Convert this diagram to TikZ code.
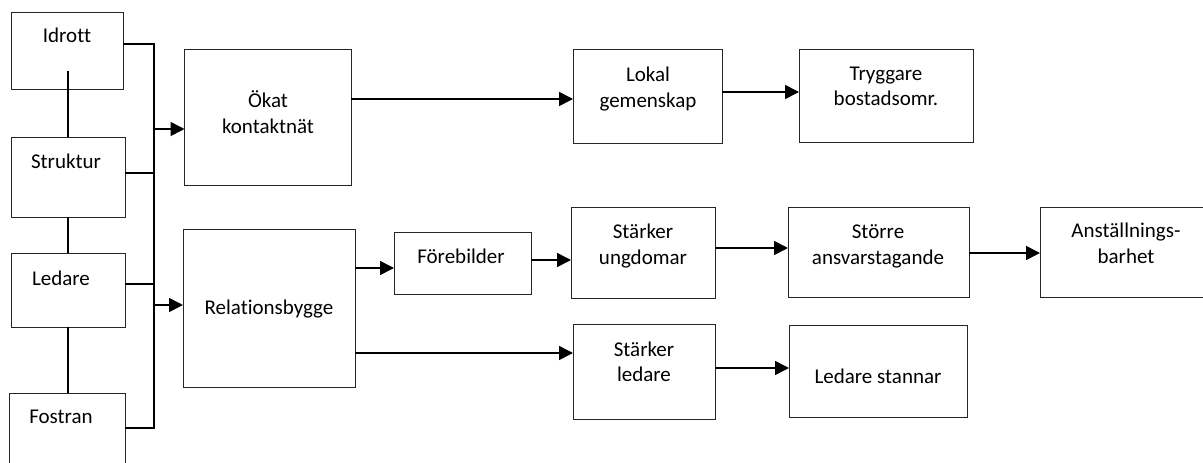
\documentclass[tikz,border=0pt]{standalone}
\usepackage{fontspec}
\setmainfont{Carlito}[Ligatures=NoCommon]
\usetikzlibrary{arrows.meta}
\tikzset{
  box/.style={draw=black!85, line width=1pt, inner sep=0pt, outer sep=0pt, anchor=north west},
  txt/.style={inner sep=0pt, anchor=base, font=\fontsize{21}{26}\selectfont},
  conn/.style={line width=1.6pt, black},
  arr/.style={conn, -{Triangle[length=14pt,width=14pt]}},
}
\newcommand\mkbox[5]{\node[box, minimum width={(#4-#2)*1pt}, minimum height={(#5-#3)*1pt}] (#1) at (#2,#3) {};}
\begin{document}
\begin{tikzpicture}[x=1pt,y=-1pt]
\useasboundingbox (0,0) rectangle (1203,463);
\clip (0,0) rectangle (1203,463);
% boxes
\mkbox{idrott}{11}{12}{123}{89}
\mkbox{struktur}{11}{137}{125}{217}
\mkbox{ledare}{11}{253}{125}{327}
\mkbox{fostran}{9}{393}{125}{475}
\mkbox{okat}{184.5}{49}{351}{185}
\mkbox{rel}{183}{229}{355}{387}
\mkbox{lokal}{573}{49}{722}{143}
\mkbox{trygg}{799}{49}{973}{142}
\mkbox{foreb}{394}{232}{531}{294}
\mkbox{sung}{571}{207}{715}{298}
\mkbox{storre}{788}{207}{969}{297}
\mkbox{anst}{1040}{207}{1215}{297}
\mkbox{sled}{573}{324}{715}{419}
\mkbox{lstan}{789}{325}{967}{417}
% texts
\node[txt] (tIdrott) at (67,42) {Idrott};
\node[txt] (tStruktur) at (66,168) {Struktur};
\node[txt] (tLedare) at (61,285) {Ledare};
\node[txt] (tFostran) at (61,423) {Fostran};
\node[txt] (tOkat1) at (268,107) {Ökat};
\node[txt] (tOkat2) at (268,133) {kontaktnät};
\node[txt] (tLokal1) at (648,81) {Lokal};
\node[txt] (tLokal2) at (648,107) {gemenskap};
\node[txt] (tTrygg1) at (886,80) {Tryggare};
\node[txt] (tTrygg2) at (886,105) {bostadsomr.};
\node[txt] (tRel) at (269,314) {Relationsbygge};
\node[txt] (tForeb) at (461,263) {Förebilder};
\node[txt] (tSung1) at (643,238) {Stärker};
\node[txt] (tSung2) at (643,264) {ungdomar};
\node[txt] (tStorre1) at (878,238) {Större};
\node[txt] (tStorre2) at (878,264) {ansvarstagande};
\node[txt] (tAnst1) at (1126,237) {Anställnings-};
\node[txt] (tAnst2) at (1126,263) {barhet};
\node[txt] (tSled1) at (644,356) {Stärker};
\node[txt] (tSled2) at (644,381) {ledare};
\node[txt] (tLstan) at (878,383) {Ledare stannar};
% left chain
\coordinate (iS) at ([yshift=-20.5pt]idrott.center);
\draw[conn] (iS -| struktur.north) -- (struktur.north);
\draw[conn] (struktur.south) -- (ledare.north);
\draw[conn] (ledare.south) -- (ledare.south |- fostran.north);
% bus
\coordinate (i1) at ([yshift=6.5pt]idrott.east);
\coordinate (s1) at ([yshift=4pt]struktur.east);
\coordinate (l1) at ([yshift=6pt]ledare.east);
\coordinate (f1) at ([yshift=6pt]fostran.east);
\coordinate (bT) at ([xshift=31pt]i1);
\draw[conn] (i1) -- (bT) -- (bT |- f1) -- (f1);
\draw[conn] (s1) -- (s1 -| bT);
\draw[conn] (l1) -- (l1 -| bT);
\coordinate (okIn) at ([yshift=-12pt]okat.west);
\coordinate (relIn) at ([yshift=3pt]rel.west);
\draw[arr] (okIn -| bT) -- (okIn);
\draw[arr] (relIn -| bT) -- (relIn);
% top row
\coordinate (o1) at ([yshift=18pt]okat.east);
\draw[arr] (o1) -- (o1 -| lokal.west);
\coordinate (lo1) at ([yshift=4pt]lokal.east);
\draw[arr] (lo1) -- (lo1 -| trygg.west);
% middle row
\coordinate (r1) at ([yshift=40pt]rel.east);
\draw[arr] (r1) -- (r1 -| foreb.west);
\coordinate (fb1) at ([yshift=3pt]foreb.east);
\draw[arr] (fb1) -- (fb1 -| sung.west);
\coordinate (su1) at ([yshift=4.5pt]sung.east);
\draw[arr] (su1) -- (su1 -| storre.west);
\coordinate (st1) at ([yshift=-1pt]storre.east);
\draw[arr] (st1) -- (st1 -| anst.west);
% bottom row
\coordinate (r2) at ([yshift=-45pt]rel.east);
\draw[arr] (r2) -- (r2 -| sled.west);
\coordinate (sl1) at ([yshift=3.5pt]sled.east);
\draw[arr] (sl1) -- (sl1 -| lstan.west);
\end{tikzpicture}
\end{document}
